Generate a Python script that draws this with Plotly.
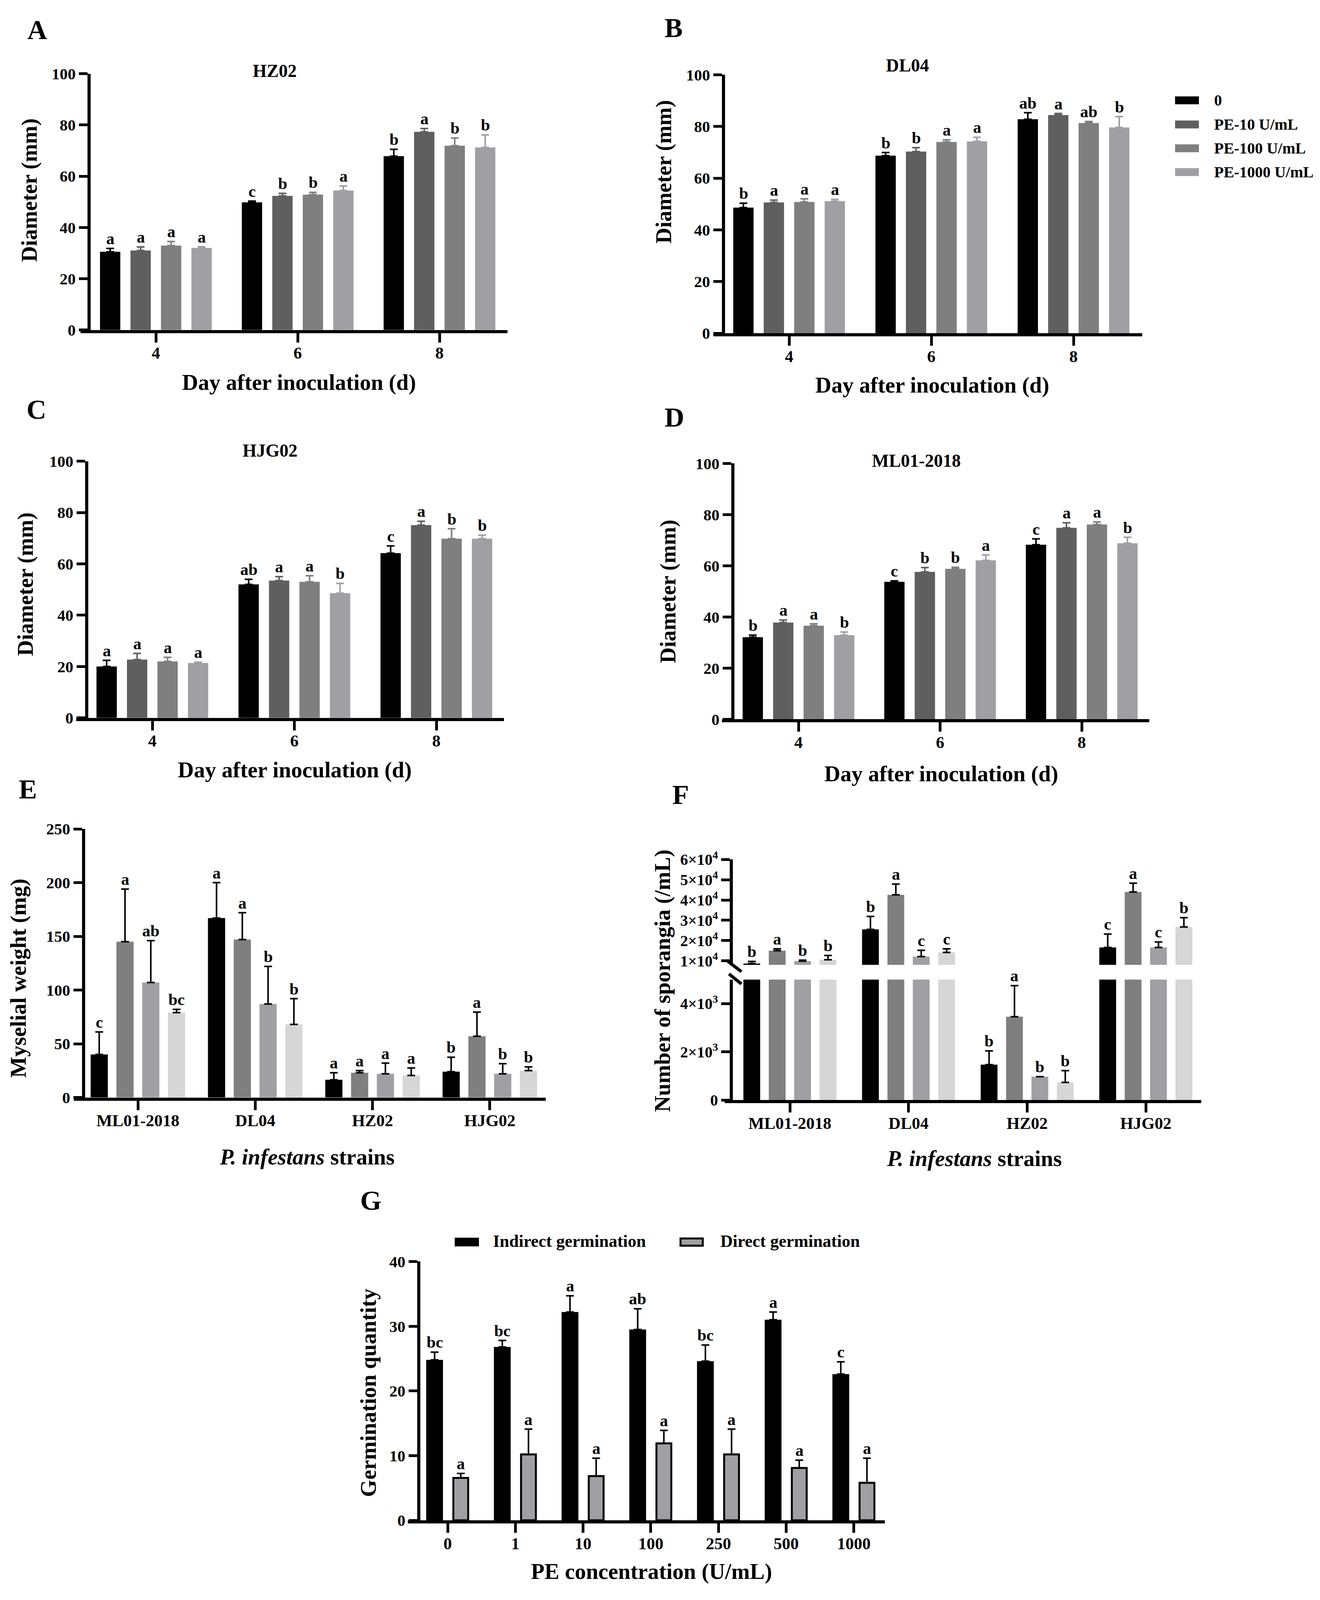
import plotly.graph_objects as go

W, H = 3379, 4383
FONT = "Liberation Serif"

# ---------------- data ----------------
days = ["4", "6", "8"]
treatments = ["0", "PE-10 U/mL", "PE-100 U/mL", "PE-1000 U/mL"]

hz02_mean = [[30.5, 49.8, 67.8], [31.0, 52.3, 77.3], [32.9, 52.8, 71.9], [32.0, 54.4, 71.2]]
hz02_err = [[1.3, 0.5, 2.7], [1.4, 1.0, 1.3], [1.6, 0.9, 3.0], [0.5, 1.8, 4.9]]
hz02_sig = [["a", "c", "b"], ["a", "b", "a"], ["a", "b", "b"], ["a", "a", "b"]]

dl04_mean = [[48.6, 68.7, 82.8], [50.6, 70.3, 84.4], [50.8, 74.0, 81.3], [51.1, 74.2, 79.6]]
dl04_err = [[1.7, 1.2, 2.5], [0.9, 1.5, 0.6], [1.2, 0.8, 0.6], [0.7, 1.6, 4.2]]
dl04_sig = [["b", "b", "ab"], ["a", "b", "a"], ["a", "a", "ab"], ["a", "a", "b"]]

hjg02_mean = [[20.0, 52.0, 64.2], [22.7, 53.5, 75.1], [22.0, 53.0, 69.8], [21.4, 48.6, 69.8]]
hjg02_err = [[2.4, 2.0, 2.8], [2.4, 1.5, 1.5], [1.6, 2.4, 3.9], [0.3, 3.8, 1.4]]
hjg02_sig = [["a", "ab", "c"], ["a", "a", "a"], ["a", "a", "b"], ["a", "b", "b"]]

ml01_mean = [[32.1, 53.7, 68.2], [37.8, 57.6, 74.8], [36.6, 58.8, 76.1], [32.9, 62.1, 68.8]]
ml01_err = [[0.8, 0.4, 2.3], [1.0, 1.7, 2.0], [0.7, 0.6, 1.0], [1.2, 2.1, 2.3]]
ml01_sig = [["b", "c", "c"], ["a", "b", "a"], ["a", "b", "a"], ["b", "a", "b"]]

strains = ["ML01-2018", "DL04", "HZ02", "HJG02"]
myc_mean = [[40, 167, 16.5, 24], [145, 147, 23, 57], [107, 87, 22, 22], [79, 68, 20.5, 25]]
myc_err = [[21, 33, 6.5, 13.5], [49, 25, 2, 22.5], [39, 35, 10, 9.5], [3, 24, 7, 3.5]]
myc_sig = [["c", "a", "a", "b"], ["a", "a", "a", "a"], ["ab", "b", "a", "b"], ["bc", "b", "a", "b"]]

spo_mean = [[8600, 25500, 1470, 16600], [15000, 42600, 3460, 44000],
            [9800, 12100, 970, 16600], [10500, 14100, 730, 26700]]
spo_err = [[1100, 6400, 570, 6600], [900, 5300, 1290, 4300],
           [500, 3100, 0, 2700], [2100, 1800, 490, 4600]]
spo_sig = [["b", "b", "b", "c"], ["a", "a", "a", "a"], ["b", "c", "b", "c"], ["b", "c", "b", "b"]]

conc = ["0", "1", "10", "100", "250", "500", "1000"]
germ_series = ["Indirect germination", "Direct germination"]
indirect_mean = [24.8, 26.8, 32.2, 29.5, 24.6, 31.0, 22.6]
indirect_err = [1.2, 1.0, 2.5, 3.2, 2.5, 1.2, 1.9]
indirect_sig = ["bc", "bc", "a", "ab", "bc", "a", "c"]
direct_mean = [6.55, 10.2, 6.85, 11.9, 10.2, 8.1, 5.8]
direct_err = [0.7, 3.9, 2.75, 2.0, 3.9, 1.2, 3.8]
direct_sig = ["a", "a", "a", "a", "a", "a", "a"]

diam_ticks = [0, 20, 40, 60, 80, 100]
myc_ticks = [0, 50, 100, 150, 200, 250]
spo_low_ticks = [0, 2000, 4000]
spo_low_text = ["0", "2×10<sup>3</sup>", "4×10<sup>3</sup>"]
spo_up_ticks = [10000, 20000, 30000, 40000, 50000, 60000]
spo_up_text = ["1×10<sup>4</sup>", "2×10<sup>4</sup>", "3×10<sup>4</sup>",
               "4×10<sup>4</sup>", "5×10<sup>4</sup>", "6×10<sup>4</sup>"]
germ_ticks = [0, 10, 20, 30, 40]

# ---------------- style ----------------
AD_COLORS = ["#000000", "#5f5f5f", "#7f7f7f", "#a0a0a4"]
EF_COLORS = ["#000000", "#7f7f7f", "#a0a0a4", "#d6d6d6"]
G_COLORS = ["#000000", "#a0a0a4"]


def fx(px):
    return px / W


def fy(py):
    return 1 - py / H


def tf(size):
    return dict(family=FONT, size=size, color="black", weight="bold")


def axkey(p, n):
    return p + ("axis" if n == 1 else f"axis{n}")


def ref(p, n):
    return p if n == 1 else f"{p}{n}"


fig = go.Figure()
layout = {}
annotations = []
shapes = []


def setup_x(n, yn, cats, xl, xr, tick0, cat):
    lo = -(tick0 - xl) / cat
    hi = (xr - tick0) / cat
    layout[axkey("x", n)] = dict(
        domain=[fx(xl), fx(xr)], anchor=ref("y", yn), type="category",
        categoryorder="array", categoryarray=cats, range=[lo, hi],
        showline=True, linewidth=8, linecolor="black", ticks="outside",
        ticklen=24, tickwidth=7, tickcolor="black", tickfont=tf(43),
        showgrid=False, zeroline=False, ticklabelstandoff=-10)


def setup_y(n, ya, yt, yb, rng, tickvals, ticktext=None, font=41):
    d = dict(domain=[fy(yb), fy(yt)], anchor="free", position=fx(ya), range=rng,
             tickmode="array", tickvals=tickvals, showline=True, linewidth=8,
             linecolor="black", ticks="outside", ticklen=22, tickwidth=7,
             tickcolor="black", tickfont=tf(font), showgrid=False, zeroline=False)
    if ticktext is not None:
        d["ticktext"] = ticktext
    layout[axkey("y", n)] = d


def add_bars(xn, yn, cats, names, means, errs, sigs, colors, err_colors, cat,
             bar_px, slot_px, line_w=0, keep=None):
    n = len(means)
    for i in range(n):
        c = (i - (n - 1) / 2) * slot_px / cat
        w = bar_px / cat
        fig.add_trace(go.Bar(
            x=cats, y=means[i], width=w, offset=c - w / 2, name=names[i],
            xaxis=ref("x", xn), yaxis=ref("y", yn),
            marker=dict(color=colors[i], line=dict(width=line_w, color="black")),
            error_y=dict(type="data", array=errs[i], arrayminus=[0] * len(cats),
                         symmetric=False, color=err_colors[i], thickness=4, width=10),
            showlegend=False))
        for j in range(len(cats)):
            top = means[i][j] + errs[i][j]
            if keep is None or keep(top):
                annotations.append(dict(
                    x=j + c, y=top, xref=ref("x", xn), yref=ref("y", yn),
                    text=sigs[i][j], showarrow=False, xanchor="center",
                    yanchor="bottom", font=tf(42)))


def text(x, y, s, size, angle=0, xanchor="center"):
    annotations.append(dict(x=fx(x), y=fy(y), xref="paper", yref="paper", text=s,
                            showarrow=False, xanchor=xanchor, yanchor="middle",
                            textangle=angle, font=tf(size)))


# ---- A-D diameter panels ----
diam_panels = [
    # n, title, means, errs, sigs, xl, ya, xr, yt, yb, tick0, cat
    (1, "HZ02", hz02_mean, hz02_err, hz02_sig, 206, 228, 1299, 174, 885, 399, 363),
    (2, "DL04", dl04_mean, dl04_err, dl04_sig, 1826, 1852, 2924, 177, 894, 2020, 364),
    (3, "HJG02", hjg02_mean, hjg02_err, hjg02_sig, 195, 222, 1290, 1249, 1961, 390, 363.5),
    (4, "ML01-2018", ml01_mean, ml01_err, ml01_sig, 1848, 1876, 2942, 1255, 1965, 2044, 362.5),
]
for n, title, mn, er, sg, xl, ya, xr, yt, yb, t0, cat in diam_panels:
    setup_x(n, n, days, xl, xr, t0, cat)
    setup_y(n, ya, yt, yb, [0, 100], diam_ticks)
    add_bars(n, n, days, treatments, mn, er, sg, AD_COLORS, AD_COLORS, cat, 52, 78)

# titles
text(703, 166, "HZ02", 46)
text(2323, 151, "DL04", 46)
text(691, 1220, "HJG02", 46)
text(2345, 1248, "ML01-2018", 46)

# ---- E mycelial weight ----
setup_x(5, 5, strains, 189, 1397, 353, 300.3)
setup_y(5, 214, 2269, 3014, [0, 250], myc_ticks)
add_bars(5, 5, strains, treatments, myc_mean, myc_err, myc_sig, EF_COLORS,
         ["black"] * 4, 300.3, 44, 66)

# ---- F sporangia (broken axis) ----
setup_x(6, 6, strains, 1855, 3075, 2022, 303.7)
setup_y(6, 1872, 2687, 3021, [0, 5000], spo_low_ticks, spo_low_text, font=40)
setup_y(7, 1872, 2354, 2646, [8000, 60000], spo_up_ticks, spo_up_text, font=40)
add_bars(6, 6, strains, treatments, spo_mean, spo_err, spo_sig, EF_COLORS,
         ["black"] * 4, 303.7, 43, 65, keep=lambda t: t < 5000)
add_bars(6, 7, strains, treatments, spo_mean, spo_err, spo_sig, EF_COLORS,
         ["black"] * 4, 303.7, 43, 65, keep=lambda t: t >= 8000)
for (x0, y0, x1, y1) in [(1863, 2636, 1898, 2665), (1866, 2671, 1898, 2699)]:
    shapes.append(dict(type="line", xref="paper", yref="paper", x0=fx(x0), y0=fy(y0),
                       x1=fx(x1), y1=fy(y1), line=dict(color="black", width=8)))

# ---- G germination ----
setup_x(7, 8, conc, 1044, 2265, 1146, 173.3)
setup_y(8, 1072, 3469, 4187, [0, 40], germ_ticks)
germ_cat = 173.3
for i, (mn, er, sg) in enumerate([(indirect_mean, indirect_err, indirect_sig),
                                  (direct_mean, direct_err, direct_sig)]):
    c = (i - 0.5) * 67 / germ_cat
    bw = (43 if i == 0 else 38) / germ_cat
    fig.add_trace(go.Bar(
        x=conc, y=mn, width=bw, offset=c - bw / 2, name=germ_series[i],
        xaxis="x7", yaxis="y8",
        marker=dict(color=G_COLORS[i], line=dict(width=0 if i == 0 else 5, color="black")),
        error_y=dict(type="data", array=er, arrayminus=[0] * len(conc), symmetric=False,
                     color="black", thickness=4, width=10),
        showlegend=False))
    for j in range(len(conc)):
        annotations.append(dict(x=j + c, y=mn[j] + er[j], xref="x7", yref="y8",
                                text=sg[j], showarrow=False, xanchor="center",
                                yanchor="bottom", font=tf(42)))

# ---- legends ----
for k, yc in enumerate([248, 315, 381, 447]):
    shapes.append(dict(type="rect", xref="paper", yref="paper", x0=fx(3008), x1=fx(3069),
                       y0=fy(yc + 11), y1=fy(yc - 11), fillcolor=AD_COLORS[k],
                       line=dict(width=0)))
    text(3106, yc, treatments[k], 40, xanchor="left")

shapes.append(dict(type="rect", xref="paper", yref="paper", x0=fx(1164), x1=fx(1226),
                   y0=fy(3427), y1=fy(3403), fillcolor=G_COLORS[0], line=dict(width=0)))
shapes.append(dict(type="rect", xref="paper", yref="paper", x0=fx(1742), x1=fx(1799),
                   y0=fy(3425), y1=fy(3405), fillcolor=G_COLORS[1],
                   line=dict(width=5, color="black")))
text(1260, 3413, germ_series[0], 44, xanchor="left")
text(1842, 3413, germ_series[1], 44, xanchor="left")

# ---- axis titles ----
xt = "Day after inoculation (d)"
text(765, 1031, xt, 57)
text(2386, 1038, xt, 57)
text(754, 2105, xt, 57)
text(2409, 2116, xt, 57)
text(786, 3179, "<i>P. infestans</i> strains", 57)
text(2494, 3183, "<i>P. infestans</i> strains", 57)
text(1667, 4329, "PE concentration (U/mL)", 57)

yt_ = "Diameter (mm)"
text(76, 498, yt_, 56, angle=-90)
text(1700, 447, yt_, 56, angle=-90)
text(65, 1591, yt_, 56, angle=-90)
text(1711, 1611, yt_, 56, angle=-90)
text(47, 2683, "Myselial weight (mg)", 57, angle=-90)
text(1696, 2690, "Number of sporangia (/mL)", 57, angle=-90)
text(942, 3833, "Germination quantity", 57, angle=-90)

# ---- panel letters ----
for s, x, y in [("A", 95, 53), ("B", 1724, 47), ("C", 93, 1106), ("D", 1727, 1127),
                ("E", 71, 2159), ("F", 1742, 2174), ("G", 949, 3300)]:
    text(x, y, s, 70)

fig.update_layout(
    autosize=True, margin=dict(l=0, r=0, t=0, b=0),
    paper_bgcolor="white", plot_bgcolor="white", barmode="overlay",
    showlegend=False, annotations=annotations, shapes=shapes,
    font=tf(41), **layout)

post = ("document.documentElement.style.margin='0';"
        "document.documentElement.style.overflow='hidden';"
        "document.body.style.margin='0';document.body.style.padding='0';"
        "document.body.style.overflow='hidden';"
        "var gd=document.getElementById('{plot_id}');"
        "if(gd){gd.style.width='100vw';gd.style.height='100vh';"
        "Plotly.Plots.resize(gd);}")

fig.write_html("out.html", default_width="100vw", default_height="100vh",
               config={"responsive": True, "displayModeBar": False},
               post_script=post)
